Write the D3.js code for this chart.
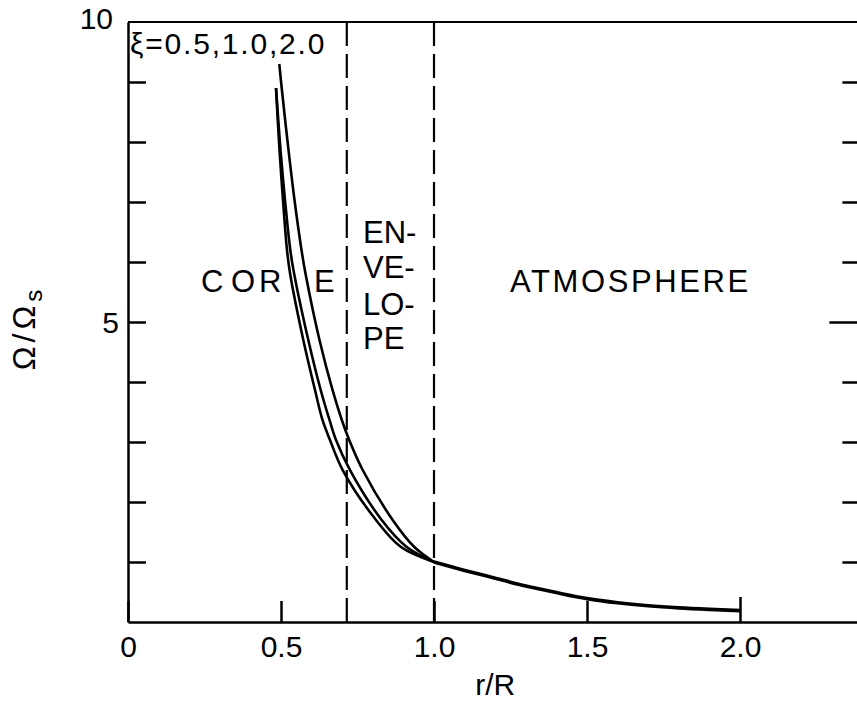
<!DOCTYPE html>
<html><head><meta charset="utf-8">
<script src="https://cdn.jsdelivr.net/npm/d3@7"></script>
<style>html,body{margin:0;padding:0;background:#fff;} svg{display:block;}</style>
</head><body>
<svg id="chart" width="857" height="703"></svg>
<script>
// ---- data ----
const xiLabel = "ξ=0.5,1.0,2.0";
// core + envelope curves, one per ξ
const rA = [0.4837,0.4951,0.5065,0.5196,0.5294,0.5729,0.6111,0.6356,0.6601,0.7016,0.8105,0.8922,1.000];
const vA = [8.90,7.867,7.033,6.20,5.817,4.70,3.867,3.367,3.033,2.533,1.70,1.25,1.00];
const rB = [0.4837,0.4984,0.5131,0.5304,0.5425,0.5892,0.6297,0.6585,0.6797,0.7255,0.8291,0.9108,1.000];
const vB = [8.90,7.867,7.033,6.20,5.817,4.70,3.867,3.367,3.033,2.533,1.70,1.25,1.00];
const rC = [0.4944,0.5023,0.5245,0.5441,0.5670,0.5797,0.6258,0.6683,0.6987,0.7229,0.7670,0.8650,0.9356,1.000];
const vC = [9.30,8.90,7.867,7.033,6.20,5.817,4.70,3.867,3.367,3.033,2.533,1.70,1.25,1.00];
// shared atmosphere part
const rAtm = [1.0,1.1,1.2,1.3,1.4,1.5,1.6,1.7,1.8,1.9,2.0];
const vAtm = [1.0,0.86,0.73,0.60,0.49,0.39,0.32,0.27,0.235,0.21,0.19];
// region boundaries (dashed)
const boundaries = [0.715, 1.0];
// ticks
const xTickVals = [0, 0.5, 1.0, 1.5, 2.0];
const xTickLabels = ["0", "0.5", "1.0", "1.5", "2.0"];
const yTickVals = [1,2,3,4,5,6,7,8,9];
const yLabelVals = [5, 10];
const regionLabels = ["CORE", "ENVELOPE", "ATMOSPHERE"];

// ---- scales ----
const svg = d3.select("#chart");
const x = d3.scaleLinear().domain([0, 2.4]).range([128, 862.4]);
const y = d3.scaleLinear().domain([0, 10]).range([622, 22]);
const FONT = "'Liberation Sans', Arial, sans-serif";

// frame: top border (right axis falls just outside the picture)
svg.append("line").attr("x1", x(0)).attr("x2", x(2.4)).attr("y1", y(10)).attr("y2", y(10))
  .attr("stroke", "#000").attr("stroke-width", 2);

// left axis
const gl = svg.append("g").attr("transform", `translate(${x(0)},0)`)
  .call(d3.axisLeft(y).tickValues(yTickVals).tickSizeInner(-18).tickSizeOuter(0).tickFormat(""));
gl.selectAll("path,line").attr("stroke", "#000").attr("stroke-width", 2.5);

// right axis (ticks point inward)
const gr = svg.append("g").attr("transform", `translate(${x(2.4)},0)`)
  .call(d3.axisRight(y).tickValues(yTickVals).tickSizeInner(-20).tickSizeOuter(0).tickFormat(""));
gr.selectAll("path,line").attr("stroke", "#000").attr("stroke-width", 2.5);
gr.selectAll(".tick line").filter(d => d === 5).attr("x2", -33);

// bottom axis
const gb = svg.append("g").attr("transform", `translate(0,${y(0)})`)
  .call(d3.axisBottom(x).tickValues(xTickVals).tickSizeInner(-21).tickSizeOuter(0)
    .tickPadding(14).tickFormat((d, i) => xTickLabels[i]));
gb.selectAll("path,line").attr("stroke", "#000").attr("stroke-width", 2.5);
gb.selectAll(".tick line").filter(d => d === 2.0).attr("y2", -25);
gb.selectAll("text").attr("font-family", FONT).attr("font-size", 30).attr("fill", "#000");

// y labels
svg.append("g").selectAll("text").data(yLabelVals).join("text")
  .attr("x", d => d === 10 ? 113 : 119)
  .attr("y", d => d === 10 ? y(d) + 7 : y(d) + 11)
  .attr("text-anchor", "end").attr("font-family", FONT).attr("font-size", 30)
  .text(d => d);

// axis titles
svg.append("text").attr("x", x(1.2)).attr("y", 695).attr("text-anchor", "middle")
  .attr("font-family", FONT).attr("font-size", 30).text("r/R");
const yt = svg.append("text").attr("transform", "translate(35,328) rotate(-90)")
  .attr("text-anchor", "middle").attr("font-family", FONT).attr("font-size", 32)
  .attr("letter-spacing", 4);
yt.append("tspan").text("Ω/Ω");
yt.append("tspan").attr("font-size", 24).attr("dy", 7).text("s");

// dashed boundaries
svg.append("g").selectAll("line").data(boundaries).join("line")
  .attr("x1", d => x(d)).attr("x2", d => x(d))
  .attr("y1", y(10)).attr("y2", y(0))
  .attr("stroke", "#000").attr("stroke-width", 2.2).attr("stroke-dasharray", "24,8");

// curves
const line = d3.line().x(d => x(d[0])).y(d => y(d[1])).curve(d3.curveCatmullRom.alpha(0.5));
const series = [[rA, vA], [rB, vB], [rC, vC]];
svg.append("g").selectAll("path").data(series).join("path")
  .attr("d", s => line(s[0].map((r, i) => [r, s[1][i]])))
  .attr("fill", "none").attr("stroke", "#000").attr("stroke-width", 2.6);
svg.append("path").attr("d", line(rAtm.map((r, i) => [r, vAtm[i]])))
  .attr("fill", "none").attr("stroke", "#000").attr("stroke-width", 3.6);

// labels
svg.append("text").attr("x", 130).attr("y", 54).attr("font-family", FONT)
  .attr("font-size", 30).attr("letter-spacing", 1.8).text(xiLabel);

const core = svg.append("text").attr("y", 292).attr("font-family", FONT).attr("font-size", 31);
const coreX = [201, 231, 259, 314];
regionLabels[0].split("").forEach((ch, i) => core.append("tspan").attr("x", coreX[i]).text(ch));

const env = svg.append("text").attr("font-family", FONT).attr("font-size", 31);
const envLines = ["EN-", "VE-", "LO-", "PE"];
const envBase = [243, 278, 315, 349];
envLines.forEach((t, i) => env.append("tspan").attr("x", 363).attr("y", envBase[i]).text(t));

svg.append("text").attr("x", 510).attr("y", 292).attr("font-family", FONT)
  .attr("font-size", 31).attr("letter-spacing", 2.6).text(regionLabels[2]);
</script>
</body></html>
